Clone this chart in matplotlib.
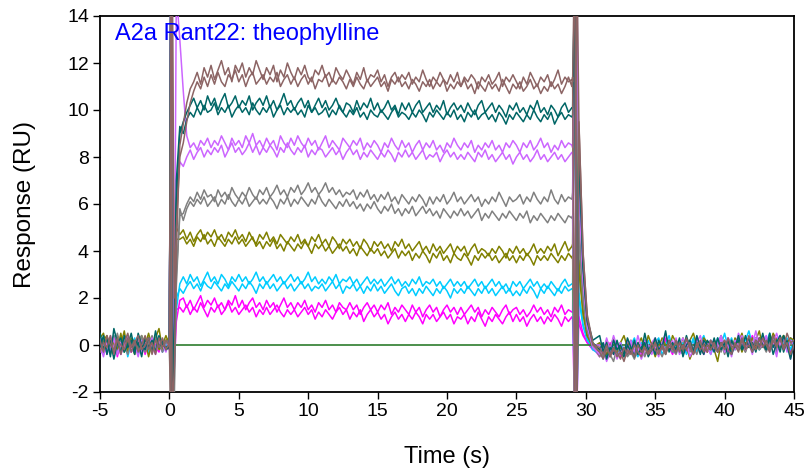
import numpy as np
import matplotlib
matplotlib.use("Agg")
import matplotlib.pyplot as plt

plt.rcParams["font.family"] = ["Liberation Sans", "DejaVu Sans"]
plt.rcParams["axes.unicode_minus"] = False

# sample times (s): baseline, injection, association, end of injection, dissociation
t_pre = np.arange(-5.0, -0.1, 0.25)
t_inj = [0.0, 0.1, 0.2, 0.35, 0.5, 0.75]
t_assoc = np.arange(1.0, 29.1, 0.25)
t_off = [29.05, 29.2, 29.35, 29.5, 29.8, 30.1, 30.5]
t_post = np.arange(31.0, 45.1, 0.25)
time = np.concatenate([t_pre, t_inj, t_assoc, t_off, t_post])

# responses (RU), two replicates per concentration
brown_1 = [0.2, -0.3, 0.4, 0.0, -0.2, 0.3, -0.4, 0.1, 0.5, -0.1,
           0.2, -0.3, 0.0, 0.4, -0.2, 0.1, -0.4, 0.3, -0.1, 0.2,
           0.0, 16, -3, -1.0, 4.0, 8.5,
           9.4, 10.3, 10.9, 11.2, 11.6, 11.1, 11.8, 11.4,
           11.9, 11.3, 11.7, 12.1, 11.5, 11.8, 11.2, 11.9,
           11.6, 12.0, 11.4, 11.8, 11.5, 12.1, 11.7, 11.3,
           11.8, 11.5, 11.9, 11.2, 11.7, 11.4, 12.0, 11.6,
           11.3, 11.8, 11.5, 11.9, 11.4, 11.2, 11.7, 11.5,
           11.9, 11.4, 11.6, 11.2, 11.8, 11.5, 11.3, 11.7,
           11.4, 11.1, 11.6, 11.3, 11.8, 11.2, 11.5, 11.4,
           11.7, 11.2, 11.5, 11.0, 11.4, 11.6, 11.2, 11.5,
           11.3, 11.6, 11.1, 11.4, 11.2, 11.7, 11.3, 11.0,
           11.4, 11.2, 11.6, 11.3, 11.1, 11.5, 11.2, 11.6,
           11.0, 11.4, 11.2, 11.5, 11.3, 10.9, 11.4, 11.2,
           11.5, 11.1, 11.3, 11.6, 11.0, 11.4, 11.2, 11.5,
           11.2, 10.9, 11.4, 11.1, 11.6, 11.3, 11.0, 11.4,
           11.2, 11.5, 11.0, 11.3, 11.7, 11.1, 11.4, 11.2,
           11.3,
           11.2, 17, -4, 9.5, 3.9, 1.3, 0.1,
           -0.3, -0.6, -0.2, -0.4, -0.1, -0.5, -0.3, -0.7,
           -0.2, -0.4, 0.0, -0.3, -0.5, -0.1, -0.4, 0.1,
           -0.2, -0.4, 0.0, -0.3, 0.2, -0.1, -0.3, 0.1,
           -0.2, 0.3, -0.1, -0.4, 0.1, -0.2, 0.0, -0.3,
           0.2, -0.1, -0.3, 0.1, -0.2, 0.3, -0.1, 0.0,
           -0.3, 0.2, -0.1, 0.4, 0.0, -0.2, 0.3, -0.1,
           0.2, -0.2, 0.4, 0.0, 0.3, -0.1, 0.5, 0.1,
           0.2]
brown_2 = [-0.3, 0.1, -0.1, 0.4, -0.4, 0.2, 0.0, -0.2, 0.3, -0.3,
           0.1, 0.4, -0.2, 0.0, 0.3, -0.4, 0.2, -0.1, 0.3, -0.2,
           0.1, -3, 17, 2.0, 5.0, 8.0,
           8.6, 9.5, 10.3, 10.8, 11.2, 10.9, 11.4, 11.0,
           11.5, 11.1, 11.6, 11.2, 11.0, 11.5, 11.3, 11.7,
           11.2, 11.5, 11.0, 11.4, 11.6, 11.1, 11.3, 11.5,
           11.1, 11.4, 11.2, 11.6, 11.0, 11.3, 11.5, 11.1,
           11.4, 11.0, 11.3, 11.5, 11.1, 11.4, 10.9, 11.3,
           11.2, 11.5, 11.0, 11.3, 11.1, 11.4, 11.2, 10.9,
           11.3, 11.0, 11.4, 11.1, 10.9, 11.3, 11.0, 11.2,
           11.4, 11.0, 11.2, 10.8, 11.3, 11.1, 11.4, 11.0,
           11.2, 10.9, 11.3, 11.1, 10.8, 11.2, 11.0, 11.3,
           10.9, 11.2, 11.0, 11.3, 10.8, 11.1, 10.9, 11.2,
           11.0, 11.3, 10.9, 11.1, 10.7, 11.2, 11.0, 10.8,
           11.2, 10.9, 11.1, 10.8, 11.3, 11.0, 10.7, 11.1,
           10.9, 11.2, 10.8, 11.0, 11.3, 10.9, 11.1, 10.7,
           11.0, 10.8, 11.2, 10.9, 11.1, 10.7, 11.0, 11.4,
           11.0,
           11.4, -4, 17, 9.6, 4.0, 1.2, 0.0,
           -0.1, -0.4, 0.0, -0.5, -0.2, -0.3, -0.6, -0.1,
           -0.4, -0.2, -0.5, 0.0, -0.3, -0.1, -0.4, -0.2,
           0.1, -0.3, -0.1, -0.4, 0.0, -0.2, 0.2, -0.3,
           0.0, -0.2, 0.1, -0.4, -0.1, 0.2, -0.3, 0.0,
           -0.2, 0.1, -0.3, 0.0, 0.2, -0.2, -0.4, 0.1,
           -0.1, 0.3, -0.2, 0.0, -0.3, 0.2, -0.1, 0.3,
           0.0, -0.3, 0.2, -0.1, 0.3, -0.2, 0.1, -0.4,
           0.0]
teal_1 = [0.5, -0.2, 0.3, -0.5, 0.7, 0.1, -0.3, 0.4, -0.1, 0.2,
          -0.4, 0.5, 0.0, -0.2, 0.3, -0.3, 0.6, -0.1, 0.2, -0.2,
          -0.1, 15, -3, -0.5, 6.0, 9.0,
          9.5, 9.9, 10.2, 10.5, 10.1, 10.4, 10.0, 10.6,
          10.2, 10.5, 10.0, 10.4, 10.7, 10.1, 10.3, 10.6,
          10.1, 10.4, 10.2, 10.6, 10.0, 10.3, 10.5, 10.2,
          10.6, 10.1, 10.4, 10.0, 10.3, 10.7, 10.2, 10.4,
          10.0, 10.3, 10.5, 10.1, 10.4, 9.9, 10.2, 10.5,
          10.1, 10.4, 10.0, 10.2, 10.5, 10.1, 9.9, 10.3,
          10.2, 9.9, 10.4, 10.0, 10.3, 10.1, 10.5, 10.0,
          10.3, 9.9, 10.1, 10.4, 10.0, 10.2, 9.8, 10.3,
          10.0, 10.3, 9.9, 10.2, 10.4, 9.9, 10.1, 10.3,
          9.9, 10.2, 10.0, 10.4, 9.8, 10.1, 10.3, 10.0,
          10.2, 9.9, 10.3, 10.0, 9.8, 10.2, 10.4, 9.9,
          10.1, 10.3, 9.9, 10.2, 10.0, 9.7, 10.2, 10.0,
          10.3, 9.9, 10.1, 9.8, 10.2, 10.0, 10.4, 9.9,
          10.1, 9.8, 10.2, 10.0, 9.7, 10.1, 10.3, 9.9,
          10.1,
          10.1, 16, -3, 8.6, 3.4, 1.1, 0.2,
          0.4, -0.3, 0.1, -0.5, 0.2, -0.2, 0.0, -0.4,
          0.3, -0.1, -0.5, 0.1, -0.3, 0.5, -0.2, 0.0,
          -0.4, 0.2, -0.1, 0.6, -0.3, 0.1, -0.2, 0.3,
          -0.5, 0.0, 0.2, -0.3, 0.4, -0.1, -0.4, 0.2,
          0.0, -0.3, 0.3, -0.2, 0.1, -0.5, 0.2, -0.1,
          0.4, -0.2, 0.0, 0.3, -0.3, 0.2, -0.1, 0.5,
          -0.2, 0.3, -0.4, 0.1, 0.4, -0.3, 0.2, -0.5,
          0.1]
teal_2 = [-0.1, 0.4, -0.4, 0.2, -0.6, 0.1, 0.3, -0.3, 0.0, 0.5,
          -0.2, 0.1, -0.5, 0.3, -0.1, 0.2, -0.3, 0.4, 0.0, -0.1,
          0.0, 16, -2.5, 1.0, 7.0, 9.3,
          9.0, 9.6, 9.9, 9.7, 10.1, 9.8, 10.2, 9.9,
          10.0, 10.3, 9.8, 10.1, 9.9, 10.2, 9.7, 10.0,
          10.2, 9.9, 10.1, 9.8, 10.3, 10.0, 9.8, 10.1,
          9.9, 10.2, 9.7, 10.0, 10.2, 9.8, 10.1, 9.9,
          10.1, 9.8, 10.0, 9.7, 10.2, 9.9, 10.1, 9.8,
          9.9, 10.1, 9.7, 10.0, 9.8, 10.2, 9.9, 9.7,
          10.0, 9.8, 10.1, 9.7, 9.9, 9.6, 10.0, 9.8,
          9.7, 10.0, 9.8, 9.6, 9.9, 10.1, 9.7, 9.9,
          9.8, 9.6, 9.9, 9.7, 10.0, 9.8, 9.5, 9.9,
          9.7, 10.0, 9.8, 9.6, 9.9, 9.7, 10.0, 9.6,
          9.8, 9.5, 9.9, 9.7, 10.0, 9.6, 9.8, 9.9,
          9.6, 9.8, 9.5, 9.9, 9.7, 9.4, 9.8, 9.6,
          9.9, 9.7, 9.5, 9.8, 9.6, 10.0, 9.7, 9.5,
          9.8, 9.6, 9.9, 9.4, 9.7, 9.9, 9.6, 9.8,
          9.7,
          9.8, 16, -3, 8.3, 3.3, 1.0, 0.1,
          -0.2, 0.1, -0.6, -0.1, -0.4, 0.2, -0.3, -0.5,
          0.0, -0.3, 0.2, -0.4, -0.1, 0.1, -0.5, -0.2,
          0.3, -0.2, 0.0, -0.4, 0.2, -0.1, -0.3, 0.1,
          -0.2, 0.4, -0.1, -0.3, 0.1, -0.4, 0.2, 0.0,
          -0.2, 0.3, -0.3, 0.1, -0.1, 0.2, -0.4, 0.0,
          0.2, -0.2, 0.4, -0.1, 0.1, -0.3, 0.3, 0.0,
          -0.2, 0.5, -0.1, 0.2, -0.3, 0.4, 0.0, -0.6,
          0.1]
violet_1 = [0.0, -0.5, 0.2, -0.2, 0.3, -0.4, 0.1, -0.1, 0.4, -0.3,
            0.0, -0.5, 0.2, -0.2, 0.3, -0.1, -0.4, 0.2, 0.0, -0.3,
            0.2, 17, -3, 0.5, 15, 13,
            10.8, 8.9, 8.4, 8.6, 8.3, 8.7, 8.5, 8.8,
            8.4, 8.7, 8.5, 8.9, 8.6, 8.3, 8.8, 8.5,
            8.7, 8.4, 8.9, 8.6, 9.0, 8.5, 8.7, 8.4,
            8.8, 8.5, 8.7, 8.3, 8.9, 8.6, 8.4, 8.8,
            8.5, 8.9, 8.6, 8.4, 8.8, 8.5, 8.7, 8.3,
            8.6, 8.9, 8.4, 8.7, 8.5, 8.3, 8.8, 8.6,
            8.4, 8.7, 8.5, 8.8, 8.3, 8.6, 8.4, 8.7,
            8.5, 8.2, 8.6, 8.4, 8.8, 8.5, 8.3, 8.7,
            8.4, 8.6, 8.2, 8.5, 8.7, 8.3, 8.6, 8.4,
            8.7, 8.3, 8.5, 8.2, 8.6, 8.4, 8.8, 8.5,
            8.3, 8.6, 8.4, 8.7, 8.2, 8.5, 8.3, 8.6,
            8.4, 8.7, 8.3, 8.5, 8.2, 8.6, 8.4, 8.7,
            8.5, 8.2, 8.6, 8.4, 8.7, 8.3, 8.5, 8.8,
            8.4, 8.6, 8.2, 8.5, 8.3, 8.7, 8.4, 8.6,
            8.5,
            8.4, 16, -3, 7.2, 2.9, 0.9, -0.1,
            -0.4, -0.2, -0.7, -0.3, -0.1, -0.6, -0.2, -0.5,
            -0.3, 0.2, -0.4, -0.1, -0.6, -0.2, 0.0, -0.4,
            -0.1, -0.5, 0.1, -0.3, 0.0, -0.2, 0.3, -0.4,
            -0.1, 0.1, -0.5, -0.2, 0.0, -0.3, 0.2, -0.1,
            -0.4, 0.1, -0.2, 0.3, -0.3, 0.0, -0.5, 0.2,
            -0.1, 0.4, -0.2, 0.1, -0.4, 0.3, -0.1, 0.0,
            0.3, -0.3, 0.1, -0.5, 0.4, -0.2, 0.2, -0.6,
            0.1]
violet_2 = [0.3, -0.1, -0.3, 0.4, -0.2, 0.2, -0.4, 0.1, 0.3, -0.2,
            0.0, 0.4, -0.3, 0.1, -0.1, 0.3, -0.2, 0.0, 0.2, -0.1,
            0.0, 15, -3, 2.0, 6.0, 7.8,
            7.6, 8.0, 8.3, 7.9, 8.2, 8.4, 8.0, 8.3,
            8.1, 8.4, 8.2, 8.5, 8.0, 8.3, 8.6, 8.2,
            8.4, 8.1, 8.3, 8.6, 8.2, 8.5, 8.1, 8.4,
            8.2, 8.5, 8.3, 8.0, 8.4, 8.2, 8.6, 8.3,
            8.1, 8.4, 8.2, 8.5, 8.0, 8.3, 8.1, 8.4,
            8.3, 8.0, 8.2, 8.4, 8.1, 8.3, 7.9, 8.2,
            8.4, 8.1, 8.3, 7.9, 8.2, 8.0, 8.3, 8.1,
            7.9, 8.2, 8.0, 8.3, 8.1, 7.8, 8.2, 8.0,
            8.3, 8.0, 8.2, 7.9, 8.1, 8.3, 7.9, 8.1,
            8.0, 8.2, 7.8, 8.1, 8.3, 8.0, 8.2, 7.9,
            8.1, 7.9, 8.2, 8.0, 7.8, 8.2, 8.0, 8.3,
            7.9, 8.1, 7.8, 8.0, 8.2, 7.9, 8.1, 7.7,
            8.0, 8.2, 7.9, 8.1, 7.8, 8.0, 8.3, 7.9,
            8.1, 7.8, 8.0, 8.2, 7.9, 8.1, 7.8, 8.0,
            8.2,
            8.2, -3, 16, 7.0, 2.8, 0.8, 0.0,
            0.0, -0.3, 0.3, -0.2, 0.4, -0.1, 0.1, -0.4,
            0.2, 0.0, -0.3, 0.4, -0.1, 0.2, -0.2, 0.1,
            0.3, -0.2, 0.1, 0.5, -0.1, 0.2, -0.3, 0.0,
            0.3, -0.1, 0.2, -0.4, 0.1, 0.4, -0.2, 0.0,
            0.2, -0.3, 0.1, 0.4, -0.1, 0.3, 0.0, -0.2,
            0.5, 0.1, -0.2, 0.3, 0.0, 0.6, -0.1, 0.2,
            0.4, -0.2, 0.1, 0.5, 0.0, 0.3, -0.3, 0.2,
            0.0]
gray_1 = [-0.2, 0.3, 0.0, -0.3, 0.4, -0.4, 0.2, -0.1, 0.3, 0.0,
          -0.3, 0.2, 0.4, -0.2, 0.1, -0.3, 0.3, -0.1, 0.0, 0.2,
          0.1, 16, -3, -2.5, 3.0, 5.5,
          5.6, 6.0, 6.3, 6.1, 6.5, 6.2, 6.6, 6.3,
          6.4, 6.1, 6.6, 6.3, 6.5, 6.2, 6.7, 6.4,
          6.2, 6.5, 6.3, 6.7, 6.4, 6.2, 6.6, 6.4,
          6.7, 6.3, 6.5, 6.8, 6.4, 6.6, 6.3, 6.7,
          6.5, 6.8, 6.4, 6.6, 6.9, 6.5, 6.7, 6.4,
          6.6, 6.9, 6.5, 6.7, 6.4, 6.6, 6.3, 6.5,
          6.4, 6.6, 6.2, 6.5, 6.3, 6.6, 6.2, 6.4,
          6.1, 6.4, 6.2, 6.5, 6.1, 6.3, 6.0, 6.4,
          6.2, 6.0, 6.3, 6.1, 6.4, 6.2, 5.9, 6.3,
          6.0, 6.3, 6.1, 6.4, 6.0, 6.2, 6.5, 6.1,
          6.3, 6.0, 6.2, 6.4, 6.1, 6.3, 5.9, 6.2,
          6.0, 6.3, 6.1, 6.5, 6.2, 5.9, 6.3, 6.1,
          6.2, 6.4, 6.0, 6.3, 6.1, 6.5, 6.2, 6.0,
          6.3, 6.1, 6.6, 6.2, 6.0, 6.4, 6.1, 6.3,
          6.2,
          6.5, 15, -3, 5.3, 2.1, 0.7, 0.0,
          -0.5, -0.2, -0.6, -0.4, -0.7, -0.1, -0.4, -0.2,
          -0.5, -0.3, 0.0, -0.4, -0.2, -0.5, -0.1, -0.3,
          0.0, -0.4, -0.1, -0.3, 0.1, -0.2, -0.4, 0.0,
          -0.2, 0.2, -0.3, -0.1, -0.4, 0.1, -0.2, 0.0,
          0.1, -0.2, 0.0, -0.3, 0.2, -0.1, -0.3, 0.1,
          -0.2, 0.0, -0.3, 0.2, -0.1, 0.1, -0.2, 0.0,
          0.2, -0.1, 0.1, -0.3, 0.0, 0.2, -0.2, 0.1,
          -0.1]
gray_2 = [0.2, -0.3, 0.1, 0.3, -0.2, 0.5, -0.1, 0.0, -0.4, 0.2,
          0.1, -0.2, 0.3, -0.3, 0.0, 0.4, -0.2, 0.1, -0.3, 0.2,
          -0.2, -3, 15, -1.5, 2.5, 5.8,
          5.3, 5.8, 6.1, 5.9, 6.2, 6.0, 6.3, 5.9,
          6.1, 6.3, 5.9, 6.2, 6.0, 6.4, 6.1, 5.9,
          6.2, 6.0, 6.3, 5.9, 6.1, 6.3, 6.0, 6.2,
          6.0, 6.3, 6.1, 5.8, 6.2, 6.0, 6.3, 5.9,
          6.2, 6.0, 6.3, 6.1, 5.9, 6.2, 6.0, 6.4,
          6.1, 5.9, 6.2, 6.0, 5.8, 6.1, 5.9, 6.2,
          5.9, 6.1, 5.8, 6.0, 5.7, 6.0, 5.8, 6.1,
          5.8, 5.6, 5.9, 5.7, 6.0, 5.6, 5.8, 5.5,
          5.8, 5.6, 5.9, 5.5, 5.7, 5.9, 5.6, 5.8,
          5.5, 5.7, 5.4, 5.8, 5.6, 5.4, 5.7, 5.5,
          5.8, 5.5, 5.7, 5.4, 5.6, 5.8, 5.3, 5.6,
          5.4, 5.7, 5.5, 5.3, 5.6, 5.4, 5.7, 5.5,
          5.3, 5.6, 5.4, 5.7, 5.2, 5.5, 5.3, 5.6,
          5.4, 5.2, 5.5, 5.3, 5.6, 5.4, 5.2, 5.5,
          5.4,
          5.5, -3, 15, 4.6, 1.9, 0.6, -0.1,
          -0.2, -0.5, -0.1, -0.4, -0.2, 0.1, -0.3, -0.5,
          -0.1, -0.3, -0.6, -0.2, 0.0, -0.4, -0.1, -0.3,
          0.1, -0.2, -0.5, -0.1, 0.0, -0.3, 0.2, -0.2,
          -0.4, 0.0, 0.2, -0.2, -0.1, 0.1, -0.3, 0.0,
          0.2, -0.2, -0.1, 0.1, -0.4, 0.0, 0.2, -0.2,
          0.0, 0.2, -0.3, 0.1, -0.1, 0.3, -0.2, 0.0,
          -0.3, 0.1, 0.2, -0.2, 0.0, 0.3, -0.1, 0.1,
          0.0]
olive_1 = [0.3, 0.5, -0.2, 0.2, -0.1, 0.4, 0.0, 0.6, -0.3, 0.3,
           0.1, -0.2, 0.4, 0.0, 0.5, -0.1, 0.3, 0.7, -0.2, 0.2,
           0.3, 16, -3, 3.0, 5.0, 4.7,
           4.9, 4.5, 4.8, 4.4, 4.7, 4.9, 4.5, 4.8,
           4.6, 4.9, 4.5, 4.7, 4.4, 4.8, 4.6, 4.9,
           4.5, 4.7, 4.4, 4.8, 4.5, 4.3, 4.7, 4.5,
           4.8, 4.4, 4.6, 4.3, 4.7, 4.5, 4.3, 4.6,
           4.4, 4.7, 4.3, 4.5, 4.2, 4.6, 4.4, 4.7,
           4.3, 4.5, 4.2, 4.6, 4.4, 4.1, 4.5, 4.3,
           4.5, 4.2, 4.4, 4.1, 4.5, 4.3, 4.0, 4.4,
           4.2, 4.4, 4.1, 4.3, 4.0, 4.4, 4.2, 4.5,
           4.1, 4.3, 4.0, 4.2, 4.4, 4.0, 4.2, 3.9,
           4.3, 4.0, 4.2, 3.9, 4.1, 4.3, 3.9, 4.2,
           4.0, 4.2, 3.8, 4.1, 4.3, 3.9, 4.1, 4.0,
           3.8, 4.1, 3.9, 4.2, 4.0, 3.7, 4.1, 3.9,
           4.2, 3.9, 4.1, 3.8, 4.0, 4.3, 3.9, 4.1,
           3.9, 4.2, 4.0, 4.3, 3.8, 4.1, 4.4, 4.0,
           4.2,
           4.3, 15, -3, 3.6, 1.5, 0.4, -0.1,
           0.1, -0.3, 0.2, -0.1, 0.3, -0.2, 0.1, 0.4,
           -0.1, 0.2, -0.3, 0.0, 0.3, -0.2, 0.4, 0.0,
           0.2, -0.1, 0.3, 0.0, -0.2, 0.4, 0.1, -0.1,
           0.3, -0.2, 0.2, 0.5, 0.0, -0.1, 0.3, 0.1,
           -0.2, 0.2, 0.0, 0.4, -0.1, 0.2, -0.3, 0.3,
           0.1, 0.5, -0.1, 0.3, 0.0, 0.2, 0.6, -0.1,
           0.3, 0.0, 0.5, 0.2, -0.1, 0.4, 0.1, 0.3,
           0.2]
olive_2 = [-0.3, 0.2, 0.4, -0.4, 0.1, -0.2, 0.5, -0.3, 0.2, 0.0,
           -0.4, 0.3, -0.1, 0.2, -0.5, 0.1, 0.3, -0.2, 0.0, 0.4,
           0.0, 15, -2.5, 1.5, 4.5, 4.5,
           4.6, 4.3, 4.5, 4.2, 4.6, 4.4, 4.7, 4.3,
           4.5, 4.2, 4.6, 4.4, 4.2, 4.5, 4.3, 4.6,
           4.3, 4.5, 4.2, 4.4, 4.6, 4.2, 4.4, 4.1,
           4.4, 4.2, 4.5, 4.1, 4.3, 4.0, 4.4, 4.2,
           4.0, 4.3, 4.1, 4.4, 4.2, 3.9, 4.3, 4.1,
           4.3, 4.0, 4.2, 3.9, 4.1, 4.3, 4.0, 4.2,
           3.9, 4.1, 3.8, 4.2, 4.0, 3.8, 4.1, 3.9,
           4.1, 3.8, 4.0, 3.7, 3.9, 4.1, 3.7, 4.0,
           3.8, 4.0, 3.6, 3.9, 3.7, 4.0, 3.8, 3.5,
           3.9, 3.7, 4.0, 3.6, 3.8, 3.5, 3.9, 3.7,
           3.6, 3.9, 3.7, 3.4, 3.8, 3.6, 3.9, 3.7,
           3.9, 3.6, 3.8, 3.5, 3.7, 3.9, 3.6, 3.8,
           3.5, 3.8, 3.6, 3.9, 3.7, 3.4, 3.8, 3.6,
           3.8, 3.6, 3.9, 3.7, 3.5, 3.8, 3.6, 3.9,
           3.7,
           3.8, -3, 15, 3.2, 1.3, 0.4, 0.0,
           -0.3, 0.0, -0.4, -0.1, 0.2, -0.3, -0.1, -0.5,
           0.1, -0.2, -0.4, 0.0, -0.2, 0.2, -0.3, 0.0,
           -0.5, -0.1, 0.1, -0.3, 0.0, -0.2, 0.2, -0.1,
           -0.3, 0.0, -0.6, -0.2, 0.1, -0.1, 0.2, -0.3,
           0.0, -0.2, -0.7, 0.1, -0.1, 0.2, -0.2, 0.0,
           0.2, -0.3, 0.1, -0.1, 0.3, -0.2, 0.0, 0.2,
           -0.1, 0.3, 0.0, -0.3, 0.2, 0.4, -0.1, 0.1,
           0.0]
cyan_1 = [-0.4, 0.1, -0.2, 0.3, -0.5, 0.0, 0.2, -0.3, 0.1, -0.1,
          0.3, -0.4, 0.0, 0.2, -0.3, 0.1, -0.2, 0.3, -0.1, 0.0,
          -0.1, 16, -2.5, 0.5, 1.5, 2.6,
          2.9, 2.6, 3.0, 2.7, 2.9, 2.5, 2.8, 3.1,
          2.7, 2.9, 2.6, 3.0, 2.8, 2.5, 2.9, 2.7,
          3.0, 2.7, 2.9, 2.6, 2.8, 3.1, 2.7, 2.9,
          2.6, 2.8, 3.0, 2.7, 2.9, 2.6, 2.8, 3.0,
          2.7, 2.9, 2.6, 2.8, 3.1, 2.7, 2.9, 2.6,
          2.8, 2.6, 2.9, 2.7, 3.0, 2.6, 2.8, 2.7,
          2.9, 2.6, 2.8, 2.5, 2.7, 2.9, 2.6, 2.8,
          2.6, 2.8, 2.5, 2.7, 2.9, 2.6, 2.8, 2.5,
          2.7, 2.5, 2.8, 2.6, 2.9, 2.5, 2.7, 2.6,
          2.8, 2.5, 2.7, 2.4, 2.6, 2.8, 2.5, 2.7,
          2.5, 2.7, 2.4, 2.6, 2.8, 2.5, 2.7, 2.4,
          2.6, 2.8, 2.5, 2.7, 2.4, 2.6, 2.3, 2.7,
          2.5, 2.7, 2.4, 2.6, 2.8, 2.5, 2.7, 2.4,
          2.6, 2.4, 2.7, 2.5, 2.3, 2.6, 2.8, 2.5,
          2.6,
          2.6, 15, -3, 2.2, 0.9, 0.3, -0.2,
          -0.4, -0.1, -0.5, -0.2, 0.0, -0.3, 0.1, -0.2,
          -0.4, 0.0, 0.3, -0.2, 0.1, -0.1, 0.2, -0.3,
          0.1, 0.3, -0.2, 0.0, 0.4, -0.1, 0.2, -0.3,
          0.0, 0.2, -0.1, 0.3, -0.2, 0.1, 0.4, -0.1,
          0.2, -0.2, 0.3, 0.0, 0.5, -0.1, 0.2, 0.0,
          0.3, -0.1, 0.2, 0.6, 0.0, 0.3, -0.2, 0.4,
          0.1, 0.5, -0.1, 0.2, 0.4, 0.0, 0.3, -0.2,
          0.2]
cyan_2 = [0.1, -0.4, 0.2, -0.1, 0.4, -0.3, -0.1, 0.3, -0.5, 0.1,
          0.2, -0.2, 0.0, 0.3, -0.4, 0.1, -0.1, 0.2, -0.3, 0.1,
          0.1, 15, -3, 3.0, 2.0, 2.4,
          2.2, 2.5, 2.7, 2.4, 2.6, 2.3, 2.7, 2.5,
          2.4, 2.7, 2.5, 2.3, 2.6, 2.4, 2.7, 2.5,
          2.3, 2.6, 2.4, 2.7, 2.5, 2.2, 2.6, 2.4,
          2.7, 2.4, 2.6, 2.3, 2.5, 2.7, 2.4, 2.6,
          2.3, 2.5, 2.7, 2.4, 2.6, 2.3, 2.5, 2.4,
          2.6, 2.3, 2.5, 2.7, 2.4, 2.6, 2.2, 2.5,
          2.4, 2.6, 2.3, 2.5, 2.2, 2.5, 2.3, 2.6,
          2.3, 2.5, 2.2, 2.4, 2.6, 2.3, 2.1, 2.4,
          2.5, 2.2, 2.4, 2.1, 2.4, 2.2, 2.5, 2.3,
          2.1, 2.4, 2.2, 2.5, 2.3, 2.0, 2.4, 2.2,
          2.4, 2.2, 2.5, 2.3, 2.1, 2.4, 2.2, 2.5,
          2.2, 2.4, 2.1, 2.3, 2.5, 2.2, 2.4, 2.1,
          2.3, 2.1, 2.4, 2.2, 2.5, 2.3, 2.0, 2.4,
          2.2, 2.5, 2.3, 2.1, 2.4, 2.2, 2.5, 2.3,
          2.4,
          2.4, -3, 15, 2.0, 0.8, 0.2, -0.1,
          -0.2, -0.6, 0.0, -0.3, -0.1, -0.5, 0.1, -0.2,
          -0.4, 0.0, -0.2, -0.5, -0.1, 0.1, -0.3, -0.1,
          -0.2, 0.1, -0.4, -0.1, 0.2, -0.3, 0.0, -0.2,
          0.1, -0.4, -0.1, 0.2, -0.3, 0.0, -0.2, 0.1,
          -0.4, 0.0, 0.2, -0.2, 0.1, -0.1, 0.3, -0.2,
          0.0, 0.2, -0.2, 0.1, -0.1, 0.3, -0.2, 0.0,
          0.2, -0.1, 0.3, -0.2, 0.0, 0.2, -0.1, 0.3,
          0.1]
magenta_1 = [0.0, 0.3, -0.4, 0.3, -0.2, 0.1, -0.4, 0.2, 0.0, -0.3,
             0.2, -0.1, 0.3, -0.4, 0.1, -0.2, 0.0, 0.3, -0.3, 0.1,
             0.0, 14.5, -3, -1.0, 1.0, 1.9,
             2.0, 1.6, 1.9, 1.5, 1.8, 2.1, 1.6, 1.9,
             1.7, 2.0, 1.6, 1.8, 1.5, 1.9, 1.7, 2.1,
             1.6, 1.9, 1.5, 1.8, 2.0, 1.6, 1.8, 1.5,
             1.9, 1.6, 1.8, 1.4, 1.7, 2.0, 1.6, 1.8,
             1.5, 1.8, 1.6, 1.9, 1.5, 1.7, 1.4, 1.8,
             1.6, 1.9, 1.5, 1.7, 1.4, 1.8, 1.6, 1.5,
             1.8, 1.5, 1.7, 1.3, 1.6, 1.8, 1.5, 1.7,
             1.4, 1.7, 1.5, 1.8, 1.3, 1.6, 1.4, 1.7,
             1.5, 1.3, 1.7, 1.4, 1.6, 1.2, 1.5, 1.7,
             1.4, 1.6, 1.2, 1.5, 1.7, 1.4, 1.6, 1.3,
             1.6, 1.3, 1.5, 1.7, 1.4, 1.6, 1.2, 1.5,
             1.3, 1.6, 1.4, 1.2, 1.5, 1.7, 1.3, 1.5,
             1.6, 1.3, 1.5, 1.2, 1.4, 1.7, 1.4, 1.6,
             1.3, 1.5, 1.2, 1.6, 1.4, 1.7, 1.3, 1.5,
             1.4,
             1.4, 15, -3, 1.2, 0.5, 0.1, -0.2,
             -0.3, -0.1, -0.5, 0.1, -0.4, -0.2, 0.0, -0.3,
             0.2, -0.1, -0.3, 0.0, -0.4, 0.1, -0.2, 0.0,
             0.1, -0.2, 0.0, 0.3, -0.1, -0.3, 0.1, 0.0,
             -0.2, 0.2, -0.1, 0.0, 0.3, -0.2, 0.1, -0.3,
             0.0, 0.2, -0.1, 0.1, -0.2, 0.3, 0.0, -0.1,
             0.3, -0.2, 0.1, 0.0, 0.4, -0.1, 0.2, 0.0,
             0.3, -0.1, 0.2, 0.0, 0.4, -0.2, 0.1, 0.3,
             0.1]
magenta_2 = [-0.2, -0.4, 0.1, -0.2, 0.3, -0.5, 0.1, -0.1, 0.3, -0.3,
             0.0, 0.2, -0.4, 0.1, -0.2, 0.3, -0.1, -0.3, 0.2, 0.0,
             -0.2, 15, -2.5, 2.5, 1.5, 1.6,
             1.4, 1.7, 1.3, 1.6, 1.4, 1.8, 1.5, 1.2,
             1.6, 1.4, 1.7, 1.3, 1.5, 1.8, 1.4, 1.6,
             1.3, 1.5, 1.7, 1.4, 1.6, 1.2, 1.5, 1.3,
             1.6, 1.3, 1.5, 1.7, 1.4, 1.2, 1.5, 1.3,
             1.5, 1.2, 1.4, 1.6, 1.3, 1.5, 1.1, 1.4,
             1.2, 1.5, 1.3, 1.1, 1.4, 1.6, 1.3, 1.5,
             1.1, 1.4, 1.2, 1.5, 1.0, 1.3, 1.5, 1.2,
             1.4, 1.1, 1.3, 0.9, 1.2, 1.4, 1.1, 1.3,
             1.0, 1.3, 1.1, 1.4, 1.2, 0.9, 1.3, 1.1,
             1.3, 1.0, 1.2, 1.4, 1.1, 1.3, 0.9, 1.2,
             1.1, 1.3, 0.9, 1.2, 1.0, 1.4, 1.1, 0.8,
             1.2, 1.0, 1.3, 1.1, 0.9, 1.2, 1.4, 1.0,
             1.3, 1.0, 1.2, 0.8, 1.1, 1.3, 1.0, 1.2,
             0.9, 1.2, 1.0, 1.3, 1.1, 0.8, 1.2, 1.0,
             1.2,
             1.1, -3, 15, 0.9, 0.4, 0.1, -0.1,
             -0.5, -0.2, -0.4, -0.1, -0.3, 0.0, -0.5, -0.2,
             -0.1, -0.3, 0.1, -0.4, -0.2, 0.0, -0.3, -0.1,
             -0.3, 0.0, -0.2, 0.2, -0.1, -0.4, 0.0, -0.2,
             0.1, -0.3, 0.0, -0.2, 0.2, -0.1, -0.4, 0.0,
             -0.1, 0.2, -0.2, 0.0, 0.1, -0.3, 0.2, -0.1,
             0.2, -0.2, 0.0, 0.3, -0.1, 0.1, 0.3, 0.0,
             -0.2, 0.2, 0.0, 0.3, -0.1, 0.2, 0.0, -0.3,
             0.1]

# zero-concentration fit line
zero_time = [0.0, 45.0]
zero_resp = [0.0, 0.0]

traces = [
    (magenta_1, "#FF00FF"), (magenta_2, "#FF00FF"),
    (cyan_1, "#00CCFF"), (cyan_2, "#00CCFF"),
    (olive_1, "#808000"), (olive_2, "#808000"),
    (gray_1, "#808080"), (gray_2, "#808080"),
    (violet_1, "#CC66FF"), (violet_2, "#CC66FF"),
    (teal_1, "#006666"), (teal_2, "#006666"),
    (brown_1, "#8C6464"), (brown_2, "#8C6464"),
]

fig = plt.figure(figsize=(8.08, 4.74), dpi=100)
ax = fig.add_axes([100 / 808, 1 - 392 / 474, 694 / 808, 376 / 474])

ax.plot(zero_time, zero_resp, color="#2E7D2E", lw=1.2, zorder=2)
for i, (vals, col) in enumerate(traces):
    assert len(vals) == len(time), (i, len(vals), len(time))
    ax.plot(time, vals, color=col, lw=1.1, zorder=1 if i < 4 else 3)

ax.set_xlim(-5, 45)
ax.set_ylim(-2, 14)
ax.set_xticks(np.arange(-5, 46, 5))
ax.set_yticks(np.arange(-2, 15, 2))
ax.tick_params(direction="out", length=5, width=1, labelsize=14, pad=3)
for s in ax.spines.values():
    s.set_linewidth(1.3)

ax.set_xlabel("Time (s)", fontsize=17, labelpad=19)
ax.set_ylabel("Response (RU)", fontsize=17.5, labelpad=22)
ax.text(0.022, 0.936, "A2a Rant22: theophylline", transform=ax.transAxes,
        color="#0000FF", fontsize=17, va="baseline", ha="left")

fig.savefig("out.png", dpi=100)
